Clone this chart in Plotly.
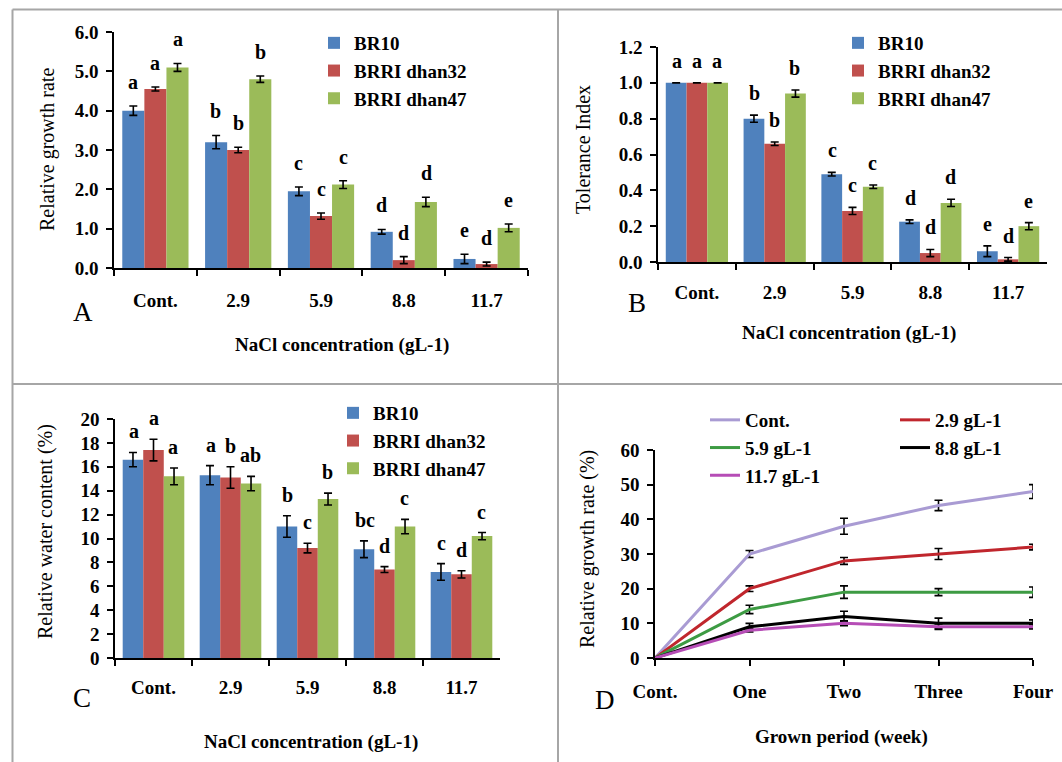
import plotly.graph_objects as go

# ---------------- data ----------------
conc = ["Cont.", "2.9", "5.9", "8.8", "11.7"]
cultivars = ["BR10", "BRRI dhan32", "BRRI dhan47"]

# Panel A: relative growth rate
rgr_br10 = [4.0, 3.2, 1.95, 0.92, 0.23]
rgr_br10_err = [0.12, 0.17, 0.11, 0.06, 0.12]
rgr_d32 = [4.55, 3.0, 1.32, 0.2, 0.1]
rgr_d32_err = [0.05, 0.07, 0.08, 0.09, 0.05]
rgr_d47 = [5.1, 4.8, 2.12, 1.68, 1.02]
rgr_d47_err = [0.1, 0.08, 0.1, 0.12, 0.1]
rgr_br10_sig = ["a", "b", "c", "d", "e"]
rgr_d32_sig = ["a", "b", "c", "d", "d"]
rgr_d47_sig = ["a", "b", "c", "d", "e"]

# Panel B: tolerance index
ti_br10 = [1.0, 0.80, 0.49, 0.225, 0.06]
ti_br10_err = [None, 0.02, 0.01, 0.01, 0.03]
ti_d32 = [1.0, 0.66, 0.285, 0.05, 0.015]
ti_d32_err = [None, 0.01, 0.02, 0.02, 0.01]
ti_d47 = [1.0, 0.94, 0.42, 0.33, 0.20]
ti_d47_err = [None, 0.02, 0.01, 0.02, 0.02]
ti_br10_sig = ["a", "b", "c", "d", "e"]
ti_d32_sig = ["a", "b", "c", "d", "d"]
ti_d47_sig = ["a", "b", "c", "d", "e"]

# Panel C: relative water content (%)
rwc_br10 = [16.6, 15.3, 11.0, 9.1, 7.2]
rwc_br10_err = [0.6, 0.8, 0.9, 0.7, 0.7]
rwc_d32 = [17.4, 15.1, 9.2, 7.4, 7.0]
rwc_d32_err = [0.9, 0.9, 0.4, 0.25, 0.3]
rwc_d47 = [15.2, 14.6, 13.3, 11.0, 10.2]
rwc_d47_err = [0.7, 0.6, 0.5, 0.6, 0.3]
rwc_br10_sig = ["a", "a", "b", "bc", "c"]
rwc_d32_sig = ["a", "b", "c", "d", "d"]
rwc_d47_sig = ["a", "ab", "b", "c", "c"]

# Panel D: relative growth rate (%) over weeks
weeks = ["Cont.", "One", "Two", "Three", "Four"]
d_names = ["Cont.", "2.9 gL-1", "5.9 gL-1", "8.8 gL-1", "11.7 gL-1"]
rg_cont = [0, 30, 38, 44, 48]
rg_cont_err = [0, 1.0, 2.3, 1.5, 2.0]
rg_29 = [0, 20, 28, 30, 32]
rg_29_err = [0, 0.8, 1.0, 1.6, 0.8]
rg_59 = [0, 14, 19, 19, 19]
rg_59_err = [0, 1.2, 1.8, 1.0, 1.5]
rg_88 = [0, 9, 12, 10, 10]
rg_88_err = [0, 1.0, 1.5, 1.5, 1.0]
rg_117 = [0, 8, 10, 9, 9]
rg_117_err = [0, 0.5, 0.7, 0.8, 0.6]

# ---------------- style ----------------
W, H = 1062, 762
SERIF = "Liberation Serif"
bar_colors = ["#4f81bd", "#c0504d", "#9bbb59"]
line_colors = ["#a99bd3", "#c0262d", "#3d9b43", "#000000", "#b64db6"]


def px(xp):
    return xp / W


def py(yp):
    return 1 - yp / H


fig = go.Figure()

panels = [
    dict(ax="", vals=[rgr_br10, rgr_d32, rgr_d47], errs=[rgr_br10_err, rgr_d32_err, rgr_d47_err],
         sigs=[rgr_br10_sig, rgr_d32_sig, rgr_d47_sig], legend="legend", bargap=0.19, shift=11),
    dict(ax="2", vals=[ti_br10, ti_d32, ti_d47], errs=[ti_br10_err, ti_d32_err, ti_d47_err],
         sigs=[ti_br10_sig, ti_d32_sig, ti_d47_sig], legend="legend2", bargap=0.22, shift=9),
    dict(ax="3", vals=[rwc_br10, rwc_d32, rwc_d47], errs=[rwc_br10_err, rwc_d32_err, rwc_d47_err],
         sigs=[rwc_br10_sig, rwc_d32_sig, rwc_d47_sig], legend="legend3", bargap=0.23, shift=8),
]

annotations = []
for p in panels:
    ax = p["ax"]
    w = (1 - p["bargap"]) / 3
    for j, name in enumerate(cultivars):
        fig.add_trace(go.Bar(
            x=conc, y=p["vals"][j], name=name,
            marker=dict(color=bar_colors[j], line=dict(width=0)),
            error_y=dict(type="data", array=p["errs"][j], color="black", thickness=1.6, width=4),
            xaxis="x" + ax, yaxis="y" + ax, legend=p["legend"],
            legendgroup=p["legend"] + name,
        ))
        for i in range(len(conc)):
            e = p["errs"][j][i] or 0
            annotations.append(dict(
                x=i + (j - 1) * w, y=p["vals"][j][i] + e,
                xref="x" + ax, yref="y" + ax, text=p["sigs"][j][i],
                showarrow=False, yanchor="bottom", yshift=p["shift"],
                font=dict(family=SERIF, size=20, color="black", weight="bold"),
            ))

d_vals = [rg_cont, rg_29, rg_59, rg_88, rg_117]
d_errs = [rg_cont_err, rg_29_err, rg_59_err, rg_88_err, rg_117_err]
for k, name in enumerate(d_names):
    fig.add_trace(go.Scatter(
        x=list(range(len(weeks))), y=d_vals[k], name=name, mode="lines",
        line=dict(color=line_colors[k], width=3),
        error_y=dict(type="data", array=d_errs[k], color="black", thickness=1.6, width=4),
        xaxis="x4", yaxis="y4",
        legend="legend4" if k % 2 == 0 else "legend5",
        legendgroup="d" + name,
    ))

axis_common = dict(
    showline=True, linecolor="black", linewidth=1.6, mirror=False,
    ticks="outside", ticklen=6, tickwidth=1.6, tickcolor="black",
    showgrid=False, zeroline=False, automargin=False,
    tickfont=dict(family=SERIF, size=19, color="black", weight="bold"),
)

fig.update_layout(
    width=W, height=H, margin=dict(l=0, r=0, t=0, b=0, pad=0, autoexpand=False),
    paper_bgcolor="white", plot_bgcolor="white",
    barmode="group", bargroupgap=0, bargap=0.2,
    showlegend=True,
    xaxis=dict(domain=[px(114), px(528)], anchor="y", type="category", tickson="boundaries",
               ticklabelstandoff=14, **axis_common),
    yaxis=dict(domain=[py(268), py(32)], anchor="x", range=[0, 6], dtick=1, tickformat=".1f",
               ticklabelstandoff=4, **axis_common),
    xaxis2=dict(domain=[px(658), px(1047)], anchor="y2", type="category", tickson="boundaries",
                ticklabelstandoff=12, **axis_common),
    yaxis2=dict(domain=[py(262), py(47)], anchor="x2", range=[0, 1.2], dtick=0.2, tickformat=".1f",
                ticklabelstandoff=4, **axis_common),
    xaxis3=dict(domain=[px(115), px(500)], anchor="y3", type="category", tickson="boundaries",
                ticklabelstandoff=11, **axis_common),
    yaxis3=dict(domain=[py(658), py(419)], anchor="x3", range=[0, 20], dtick=2,
                ticklabelstandoff=4, **axis_common),
    xaxis4=dict(domain=[px(655), px(1033)], anchor="y4", range=[0, 4],
                tickvals=list(range(len(weeks))), ticktext=weeks,
                ticklabelstandoff=9, **axis_common),
    yaxis4=dict(domain=[py(658), py(450)], anchor="x4", range=[0, 60], dtick=10,
                ticklabelstandoff=4, **axis_common),
)

leg_common = dict(xanchor="left", yanchor="top", bgcolor="rgba(0,0,0,0)",
                  font=dict(family=SERIF, size=19, color="black", weight="bold"),
                  tracegroupgap=0, itemclick=False, itemdoubleclick=False)
fig.update_layout(
    legend=dict(x=px(314), y=py(24), **leg_common),
    legend2=dict(x=px(838), y=py(24), **leg_common),
    legend3=dict(x=px(333), y=py(394), **leg_common),
    legend4=dict(x=px(705), y=py(401), **leg_common),
    legend5=dict(x=px(895), y=py(401), **leg_common),
)

title_font = dict(family=SERIF, size=20, color="black")
xtitle_font = dict(family=SERIF, size=19, color="black", weight="bold")
letter_font = dict(family=SERIF, size=27, color="black")
texts = [
    ("Relative growth rate", 47, 150, -90, title_font),
    ("Tolerance Index", 583, 150, -90, title_font),
    ("Relative water content (%)", 45, 532, -90, title_font),
    ("Relative growth rate (%)", 587, 549, -90, title_font),
    ("NaCl concentration (gL-1)", 342, 345, 0, xtitle_font),
    ("NaCl concentration (gL-1)", 849, 333, 0, xtitle_font),
    ("NaCl concentration (gL-1)", 311, 742, 0, xtitle_font),
    ("Grown period (week)", 841, 737, 0, xtitle_font),
    ("A", 83, 312, 0, letter_font),
    ("B", 637, 303, 0, letter_font),
    ("C", 82, 698, 0, letter_font),
    ("D", 605, 700, 0, letter_font),
]
for t, x, y, ang, f in texts:
    annotations.append(dict(text=t, x=px(x), y=py(y), xref="paper", yref="paper",
                            xanchor="center", yanchor="middle", textangle=ang,
                            showarrow=False, font=f))
fig.update_layout(annotations=annotations)

border = dict(color="#a6a6a6", width=2)
shapes = [
    dict(type="line", xref="paper", yref="paper", x0=px(12.5), x1=px(12.5), y0=py(9.5), y1=0, line=border),
    dict(type="line", xref="paper", yref="paper", x0=px(12.5), x1=1, y0=py(9.5), y1=py(9.5), line=border),
    dict(type="line", xref="paper", yref="paper", x0=px(558), x1=px(558), y0=py(9.5), y1=0, line=border),
    dict(type="line", xref="paper", yref="paper", x0=px(12.5), x1=1, y0=py(384), y1=py(384), line=border),
]
fig.update_layout(shapes=shapes)

fig.write_html("out.html")
